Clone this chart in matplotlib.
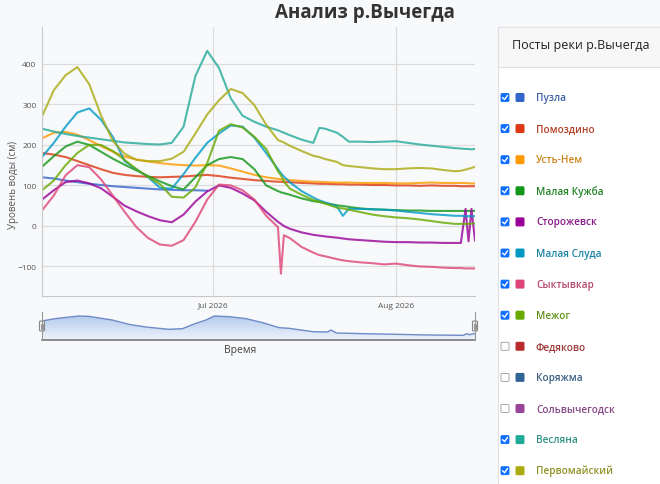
import numpy as np
import pandas as pd
import matplotlib
matplotlib.use('Agg')
import matplotlib.pyplot as plt
from matplotlib.patches import Rectangle, FancyBboxPatch
from matplotlib.colors import LinearSegmentedColormap, to_rgb
import matplotlib.dates as mdates

plt.rcParams['font.family'] = ['Open Sans', 'DejaVu Sans']

# days counted from 2 Jun 2026
days = [0, 2, 4, 6, 8, 10, 12, 14, 16, 18, 20, 22, 24, 26, 28, 30, 32, 34, 36, 38, 40,
        40.5, 41, 42, 44, 46, 47, 48, 50, 51, 52, 54, 56, 58, 60, 62, 64, 66, 68, 70,
        71, 71.8, 72.3, 72.8, 73.4]

puzla = [120, 117, 112, 108, 104, 101, 98, 96, 94, 92, 90, 89, 88, 88, 87] + [None] * 30
pomozdino = [180, 176, 170, 160, 150, 140, 131, 126, 123, 121, 120, 121, 122, 124, 126, 123, 119, 116, 113, 111, 109,
             109, 108, 108, 106, 105, 104, 104, 103, 103, 102, 102, 101, 101, 100, 100, 99, 100, 99, 99,
             98, 98, 98, 98, 98]
ust_nem = [216, 230, 232, 225, 212, 197, 183, 171, 164, 159, 155, 152, 150, 149, 150, 149, 142, 134, 126, 120, 116,
           115, 115, 113, 111, 109, 109, 108, 107, 107, 107, 106, 106, 106, 105, 105, 106, 107, 106, 106,
           106, 106, 105, 105, 105]
malaya_kuzhba = [146, 172, 196, 208, 200, 183, 166, 151, 137, 123, 110, 98, 90, 120, 150, 165, 170, 165, 140, 100, 86,
                 83, 81, 77, 68, 61, 59, 56, 51, 49, 47, 43, 41, 40, 39, 38, 38, 37, 37, 37,
                 37, 37, 37, 37, 37]
storozhevsk = [65, 88, 108, 112, 105, 93, 72, 50, 36, 24, 14, 9, 28, 60, 85, 100, 94, 80, 63, 35, 10,
               5, 0, -7, -16, -22, -24, -26, -29, -31, -33, -35, -37, -39, -40, -40, -41, -41, -42, -42,
               -42, 42, -38, 42, -36]
malaya_sluda = [170, 205, 245, 280, 290, 262, 220, 160, 140, 120, 94, 92, 128, 168, 205, 228, 248, 245, 218, 180, 140,
                130, 122, 108, 86, 70, 63, 58, 48, 25, 42, 42, 41, 40, 38, 35, 32, 29, 27, 25,
                25, 24, 24, 24, 24]
syktyvkar = [38, 75, 125, 150, 145, 115, 75, 35, -3, -30, -46, -49, -35, 10, 65, 102, 100, 88, 65, 25, -3,
             -118, -23, -30, -52, -66, -72, -75, -82, -85, -87, -90, -92, -95, -93, -97, -100, -101, -103, -104,
             -104, -105, -105, -105, -105]
mezhog = [88, 112, 150, 180, 200, 200, 185, 163, 140, 121, 103, 72, 70, 95, 155, 235, 251, 243, 220, 190, 135,
          125, 110, 92, 77, 64, 60, 55, 45, 43, 40, 34, 28, 24, 21, 19, 16, 12, 8, 5,
          5, 5, 5, 6, 6]
veslyana = [240, 233, 227, 222, 218, 214, 210, 206, 204, 202, 201, 205, 245, 370, 432, 390, 315, 272, 257, 245, 236,
            233, 230, 224, 213, 205, 242, 240, 230, 220, 208, 208, 207, 208, 209, 205, 201, 198, 195, 192,
            191, 190, 190, 189, 190]
pervomaysky = [270, 335, 372, 392, 350, 273, 210, 178, 163, 160, 160, 166, 183, 228, 275, 310, 338, 328, 298, 250, 212,
               209, 206, 198, 185, 173, 170, 165, 158, 150, 148, 145, 142, 140, 140, 142, 143, 142, 138, 135,
               136, 139, 141, 143, 146]

# navigator outline (relative height)
nav_days = [0, 2.2, 6.2, 7.9, 11.9, 14.7, 17.6, 21.5, 23.8, 26.1, 27.8, 29.2, 31.7, 34.6, 37.4, 40.2, 41.9,
            45.9, 48.4, 49.0, 49.9, 54.4, 60.1, 65.7, 71.4, 72.0, 72.5, 73.1, 73.4]
nav_level = [57, 64, 72, 71, 60, 47, 39, 32, 34, 50, 60, 72, 70, 64, 52, 37, 35,
             25, 24, 30, 21, 19, 17, 15, 14, 19, 16, 19, 18]

legend_names = ['Пузла', 'Помоздино', 'Усть-Нем', 'Малая Кужба', 'Сторожевск', 'Малая Слуда', 'Сыктывкар',
                'Межог', 'Федяково', 'Коряжма', 'Сольвычегодск', 'Весляна', 'Первомайский']
legend_colors = ['#3366cc', '#dc3912', '#ff9900', '#109618', '#990099', '#0099c6', '#dd4477',
                 '#66aa00', '#b82e2e', '#316395', '#994499', '#22aa99', '#aaaa11']
legend_checked = [True, True, True, True, True, True, True, True, False, False, False, True, True]

series = {'Пузла': puzla, 'Помоздино': pomozdino, 'Усть-Нем': ust_nem, 'Малая Кужба': malaya_kuzhba,
          'Сторожевск': storozhevsk, 'Малая Слуда': malaya_sluda, 'Сыктывкар': syktyvkar, 'Межог': mezhog,
          'Весляна': veslyana, 'Первомайский': pervomaysky}

start = pd.Timestamp('2026-06-02')
dates = start + pd.to_timedelta(days, unit='D')
nav_dates = start + pd.to_timedelta(nav_days, unit='D')

W, H = 660, 485
bg = '#f8f9fb'
fig = plt.figure(figsize=(W / 100, H / 100), dpi=100, facecolor=bg)


def box(l, t, r, b):
    return [l / W, 1 - b / H, (r - l) / W, (b - t) / H]


# main chart
ax = fig.add_axes(box(42, 28, 475, 297), facecolor=bg)
for name, col in zip(legend_names, legend_colors):
    if name in series:
        vals = np.array([np.nan if v is None else v for v in series[name]], dtype=float)
        ax.plot(dates, vals, color=col, lw=1.5, alpha=0.8, solid_joinstyle='round')
ax.set_xlim(dates[0], dates[-1])
ax.set_ylim(-173, 491)
ax.set_yticks(range(-100, 401, 100))
ax.set_xticks([pd.Timestamp('2026-07-01'), pd.Timestamp('2026-08-01')])
ax.set_xticklabels(['Jul 2026', 'Aug 2026'])
ax.grid(color='#dcdcdc', lw=0.9)
ax.set_axisbelow(True)
ax.tick_params(length=0, labelsize=6, labelcolor='#555', pad=4)
for s in ['top', 'right']:
    ax.spines[s].set_visible(False)
for s in ['left', 'bottom']:
    ax.spines[s].set_color('#c8c8c8')

fig.text(14 / W, 1 - 185 / H, 'Уровень воды (см)', rotation=90, ha='center', va='center',
         fontsize=7, color='#555')
fig.text(365 / W, 1 - 13 / H, 'Анализ р.Вычегда', ha='center', va='center',
         fontsize=13.5, weight='bold', color='#333')
fig.text(240 / W, 1 - 351 / H, 'Время', ha='center', va='center', fontsize=7.5, color='#444')

# navigator
axn = fig.add_axes(box(42, 313, 475, 341))
axn.patch.set_alpha(0)
poly = axn.fill_between(nav_dates, 0, nav_level, color='none', lw=0)
x0, x1 = mdates.date2num(dates[0]), mdates.date2num(dates[-1])
cmap = LinearSegmentedColormap.from_list('nav', ['#eef3fb', '#a9c3ea'])
grad = np.linspace(0, 1, 100).reshape(-1, 1)
im = axn.imshow(grad, cmap=cmap, extent=[x0, x1, 0, 84], aspect='auto', origin='lower')
im.set_clip_path(poly.get_paths()[0], transform=axn.transData)
axn.plot(nav_dates, nav_level, color='#6d8cc8', lw=1)
axn.set_xlim(dates[0], dates[-1])
axn.set_ylim(0, 84)
axn.set_xticks([])
axn.set_yticks([])
for s in ['top', 'right', 'left']:
    axn.spines[s].set_visible(False)
axn.spines['bottom'].set_color('#7a7a7a')
axn.spines['bottom'].set_linewidth(1.2)

# overlay: legend panel and navigator handles
ov = fig.add_axes([0, 0, 1, 1])
ov.set_xlim(0, W)
ov.set_ylim(H, 0)
ov.axis('off')

for hx in [42, 475]:
    ov.plot([hx, hx], [313, 341], color='#999', lw=0.8)
    ov.add_patch(FancyBboxPatch((hx - 2.5, 322), 5, 10, boxstyle='round,pad=0,rounding_size=1',
                                fc='#f2f2f2', ec='#888', lw=0.8))
    for gx in [hx - 0.8, hx + 0.8]:
        ov.plot([gx, gx], [324.5, 329.5], color='#888', lw=0.6)

ov.add_patch(Rectangle((498, 28), 170, 470, fc='white', ec='#dee2e6', lw=0.8))
ov.add_patch(Rectangle((498, 28), 170, 40, fc='#f7f7f7', ec='#dee2e6', lw=0.8))
ov.text(512, 46, 'Посты реки р.Вычегда', ha='left', va='center', fontsize=9, color='#222')

grey = np.array(to_rgb('#555555'))
for i, (name, col, chk) in enumerate(zip(legend_names, legend_colors, legend_checked)):
    y = 98.5 + i * 31.1
    if chk:
        ov.add_patch(FancyBboxPatch((501, y - 4), 8, 8, boxstyle='round,pad=0,rounding_size=1',
                                    fc='#0d6efd', ec='#0d6efd', lw=0.6))
        ov.plot([502.7, 504.6, 507.4], [y + 0.2, y + 2, y - 2], color='white', lw=1)
    else:
        ov.add_patch(FancyBboxPatch((501, y - 4), 8, 8, boxstyle='round,pad=0,rounding_size=1',
                                    fc='white', ec='#9a9a9a', lw=0.6))
    ov.add_patch(FancyBboxPatch((515.5, y - 4.5), 9, 9, boxstyle='round,pad=0,rounding_size=1.5',
                                fc=col, ec='none'))
    tcol = tuple(0.7 * np.array(to_rgb(col)) + 0.3 * grey)
    ov.text(536, y, name, ha='left', va='center', fontsize=7.2, weight='semibold', color=tcol)

fig.savefig('out.png', dpi=100, facecolor=fig.get_facecolor())
